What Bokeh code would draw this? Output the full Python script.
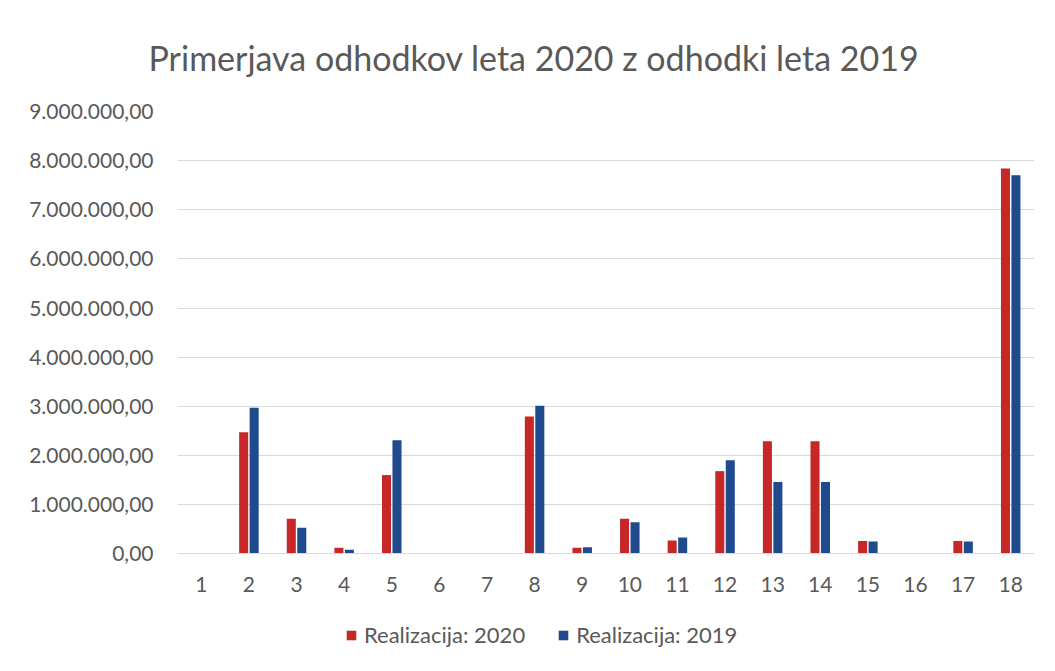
from bokeh.plotting import figure
from bokeh.models import ColumnDataSource, FactorRange, Range1d, FixedTicker, Legend, LegendItem
from bokeh.transform import dodge
from bokeh.embed import file_html
from bokeh.resources import INLINE

categories = [str(i) for i in range(1, 19)]
real_2020 = [0, 2470000, 710000, 120000, 1600000, 0, 0, 2790000, 120000, 710000,
             270000, 1680000, 2290000, 2290000, 260000, 0, 260000, 7840000]
real_2019 = [0, 2970000, 530000, 80000, 2310000, 0, 0, 3010000, 130000, 640000,
             330000, 1900000, 1460000, 1460000, 250000, 0, 250000, 7700000]
y_ticks = [0, 1000000, 2000000, 3000000, 4000000, 5000000, 6000000, 7000000, 8000000, 9000000]
y_tick_labels = ["0,00", "1.000.000,00", "2.000.000,00", "3.000.000,00", "4.000.000,00",
                 "5.000.000,00", "6.000.000,00", "7.000.000,00", "8.000.000,00", "9.000.000,00"]
title_text = "Primerjava odhodkov leta 2020 z odhodki leta 2019"
series_names = ["Realizacija: 2020", "Realizacija: 2019"]

FONT = "Lato"
RED = "#C62828"
BLUE = "#1F4A8E"
TXT = "#595959"

# layout geometry (pixels): plot top, zero line, frame bottom
TOP_PX, ZERO_PX, FRAME_BOTTOM_PX = 110, 553, 660
y_max = 9000000
px_per_unit = (ZERO_PX - TOP_PX) / y_max
y_min = -(FRAME_BOTTOM_PX - ZERO_PX) / px_per_unit

src = ColumnDataSource(dict(cat=categories, r20=real_2020, r19=real_2019))

p = figure(x_range=FactorRange(*categories, range_padding=0), y_range=Range1d(y_min, y_max),
           width=1047, height=665, output_backend="svg", toolbar_location=None,
           min_border_left=177, min_border_right=13, min_border_top=TOP_PX, min_border_bottom=5)

p.title.text = title_text
p.title.text_font = FONT
p.title.text_font_size = "34px"
p.title.text_font_style = "normal"
p.title.text_color = TXT
p.title.align = "left"
p.title.offset = -29
p.title.standoff = 68

r1 = p.vbar(x=dodge("cat", -0.11, range=p.x_range), top="r20", width=0.19, source=src,
            fill_color=RED, line_color=None)
r2 = p.vbar(x=dodge("cat", 0.11, range=p.x_range), top="r19", width=0.19, source=src,
            fill_color=BLUE, line_color=None)

p.outline_line_color = None
p.xgrid.grid_line_color = None
p.ygrid.grid_line_color = "#d9d9d9"
p.ygrid.ticker = FixedTicker(ticks=y_ticks)

p.yaxis.ticker = FixedTicker(ticks=y_ticks)
p.yaxis.major_label_overrides = {t: l for t, l in zip(y_ticks, y_tick_labels)}
p.yaxis.axis_line_color = None
p.yaxis.major_tick_line_color = None
p.yaxis.minor_tick_line_color = None
p.yaxis.major_label_standoff = 18
p.yaxis.major_label_text_font = FONT
p.yaxis.major_label_text_font_size = "21px"
p.yaxis.major_label_text_color = TXT

p.xaxis.fixed_location = 0
p.xaxis.axis_line_color = "#d9d9d9"
p.xaxis.major_tick_line_color = None
p.xaxis.minor_tick_line_color = None
p.xaxis.major_label_standoff = 17
p.xaxis.major_label_text_font = FONT
p.xaxis.major_label_text_font_size = "21px"
p.xaxis.major_label_text_color = TXT

legend = Legend(items=[LegendItem(label=series_names[0], renderers=[r1]),
                       LegendItem(label=series_names[1], renderers=[r2])],
                orientation="horizontal", location=(168, 12), margin=0, padding=5,
                label_text_font=FONT, label_text_font_size="22px", label_text_color=TXT,
                glyph_width=12, glyph_height=12, spacing=32, label_standoff=7,
                border_line_color=None, background_fill_alpha=0)
p.add_layout(legend, "center")

open("out.html", "w").write(file_html(p, INLINE))
